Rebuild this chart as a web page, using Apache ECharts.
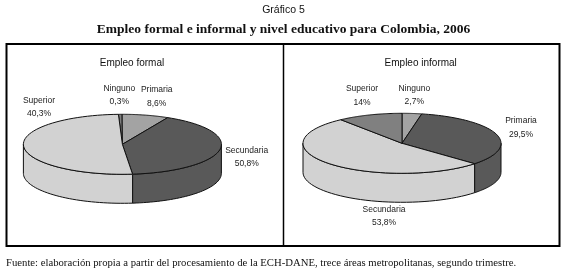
<!DOCTYPE html>
<html><head><meta charset="utf-8">
<style>html,body{margin:0;padding:0;background:#fff}#c{width:567px;height:272px}</style>
<script src="https://cdn.jsdelivr.net/npm/echarts@6/dist/echarts.min.js"></script></head>
<body><div id="c"></div>
<script>
// Printed labels
const categories = ['Ninguno','Primaria','Secundaria','Superior'];
const formalLabels = ['0,3%','8,6%','50,8%','40,3%'];
const informalLabels = ['2,7%','29,5%','53,8%','14%'];
// Slice sweep as drawn in the picture (in percent of the circle, clockwise).
// In the left pie the drawn dark and light slices carry the other label's size.
const formalDrawn = [0.6,7.6,40.8,51.0];
const informalDrawn = [3.2,33.7,52.5,10.6];
const formalColors = ['#7f7f7f','#a3a3a3','#595959','#d2d2d2'];
const informalColors = ['#a3a3a3','#595959','#d2d2d2','#808080'];

const pies = [
  {cx:122.4,cy:144.3,rx:99,ry:30,depth:29,start:-2.3,drawn:formalDrawn,colors:formalColors,labels:formalLabels,
   labelPos:[[119.3,95],[156.7,96.7],[246.7,157],[39,107]]},
  {cx:402,cy:143.3,rx:99,ry:30,depth:29,start:0,drawn:informalDrawn,colors:informalColors,labels:informalLabels,
   labelPos:[[414.3,95],[521,127.5],[384,216.3],[362,95.7]]}
];

function makeSeries(p){
  let acc = p.start;
  const spans = p.drawn.map(v=>{const a=acc; acc+=v*3.6; return [a,acc];});
  return {
    type:'custom',coordinateSystem:'cartesian2d',silent:true,clip:false,
    data:categories.map((c,i)=>[i]),
    renderItem(params,api){
      const i=api.value(0),[a0,a1]=spans[i];
      const pt=(deg,dz)=>{const t=deg*Math.PI/180;
        return api.coord([p.cx+p.rx*Math.sin(t),p.cy-p.ry*Math.cos(t)+(dz||0)]);};
      const kids=[];
      const style={fill:p.colors[i],stroke:'#111',lineWidth:1};
      // outer wall: the part of the rim on the viewer's side
      const w0=Math.max(a0,90),w1=Math.min(a1,270);
      if(w1>w0){
        const top=[],bot=[];
        for(let k=0;k<=40;k++){const d=w0+(w1-w0)*k/40;top.push(pt(d));bot.unshift(pt(d,p.depth));}
        kids.push({type:'polygon',z2:1,shape:{points:top.concat(bot)},style});
      }
      const pts=[api.coord([p.cx,p.cy])];
      for(let k=0;k<=60;k++)pts.push(pt(a0+(a1-a0)*k/60));
      kids.push({type:'polygon',z2:2,shape:{points:pts},style});
      const lp=api.coord(p.labelPos[i]);
      kids.push({type:'text',z2:3,x:lp[0],y:lp[1],style:{
        text:categories[i]+'\n'+p.labels[i],fill:'#222',align:'center',verticalAlign:'middle',
        font:'8.5px "Liberation Sans"',lineHeight:13.5}});
      return {type:'group',children:kids};
    }
  };
}

const chart = echarts.init(document.getElementById('c'),null,{renderer:'canvas'});
const T=(text,x,y,font)=>({type:'text',x,y,z:5,style:{text,fill:'#111',font:font,align:'center',verticalAlign:'middle'}});
chart.setOption({
  animation:false,backgroundColor:'#fff',
  grid:{left:0,right:0,top:0,bottom:0},
  xAxis:{type:'value',min:0,max:567,show:false},
  yAxis:{type:'value',min:0,max:272,inverse:true,show:false},
  series:pies.map(makeSeries),
  graphic:[
    {type:'rect',z:0,shape:{x:6.5,y:44,width:553,height:202},style:{fill:'none',stroke:'#000',lineWidth:2}},
    {type:'line',z:0,shape:{x1:283.5,y1:44,x2:283.5,y2:246},style:{stroke:'#000',lineWidth:1.5}},
    T('Gráfico 5',283.5,10,'10.5px "Liberation Sans"'),
    T('Empleo formal e informal y nivel educativo para Colombia, 2006',283.5,29.5,'bold 13.5px "Liberation Serif"'),
    T('Empleo formal',132,63,'10px "Liberation Sans"'),
    T('Empleo informal',420.7,63,'10px "Liberation Sans"'),
    {type:'text',x:6,y:263,z:5,style:{text:'Fuente: elaboración propia a partir del procesamiento de la ECH-DANE, trece áreas metropolitanas, segundo trimestre.',fill:'#111',font:'10.7px "Liberation Serif"',align:'left',verticalAlign:'middle'}}
  ]
});
</script></body></html>
